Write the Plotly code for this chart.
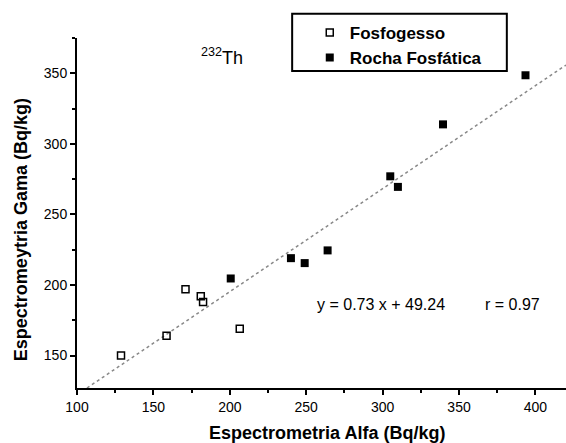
import plotly.graph_objects as go

fosfo_x = [128.8, 158.6, 171, 181, 182.5, 206.5]
fosfo_y = [150, 164, 197, 192, 188, 169]
rocha_x = [200.6, 240, 249, 264, 305, 310, 339.5, 393.5]
rocha_y = [204.6, 219, 215.5, 224.5, 277, 269.5, 313.8, 348.6]
slope, intercept = 0.73, 49.24
line_x = [100, 420]
line_y = [slope * v + intercept for v in line_x]

font = "Liberation Sans, Arial, sans-serif"
fig = go.Figure()
fig.add_trace(go.Scatter(x=line_x, y=line_y, mode="lines",
                         line=dict(color="#888", width=1.5, dash="dot"),
                         showlegend=False, hoverinfo="skip"))
fig.add_trace(go.Scatter(x=fosfo_x, y=fosfo_y, mode="markers", name="Fosfogesso",
                         marker=dict(symbol="square-open", size=7, color="black",
                                     line=dict(width=1.5))))
fig.add_trace(go.Scatter(x=rocha_x, y=rocha_y, mode="markers", name="Rocha Fosfática",
                         marker=dict(symbol="square", size=8, color="black")))

fig.update_layout(
    width=566, height=443,
    margin=dict(l=77, r=0, t=38, b=55),
    paper_bgcolor="white", plot_bgcolor="white",
    font=dict(family=font, size=14, color="black"),
    showlegend=True,
    legend=dict(x=0.476, y=1.066, xanchor="left", yanchor="top",
                borderwidth=0, bgcolor="rgba(0,0,0,0)",
                font=dict(size=17, family=font, weight="bold"), itemwidth=30,
                tracegroupgap=0),
    xaxis=dict(range=[100, 420], showline=True, linecolor="black", linewidth=2,
               ticks="outside", ticklen=5, tickwidth=1.5, tickcolor="black",
               dtick=50, tick0=100, showgrid=False, zeroline=False,
               minor=dict(ticks="outside", ticklen=3, dtick=25, tickcolor="black")),
    yaxis=dict(range=[127, 375], showline=True, linecolor="black", linewidth=2,
               ticks="outside", ticklen=5, tickwidth=1.5, tickcolor="black",
               dtick=50, tick0=150, showgrid=False, zeroline=False,
               minor=dict(ticks="outside", ticklen=3, dtick=25, tickcolor="black")),
    shapes=[dict(type="rect", xref="paper", yref="paper", x0=0.44, x1=0.879,
                 y0=0.906, y1=1.069, line=dict(color="black", width=2))],
    annotations=[
        dict(x=0.511, y=-0.1286, xref="paper", yref="paper", xanchor="center",
             yanchor="middle", text="<b>Espectrometria Alfa (Bq/kg)</b>",
             showarrow=False, font=dict(size=18)),
        dict(x=-0.1145, y=0.451, xref="paper", yref="paper", xanchor="center",
             yanchor="middle", text="<b>Espectromeytria Gama (Bq/kg)</b>",
             textangle=-90, showarrow=False, font=dict(size=18)),
        dict(x=0.249, y=0.946, xref="paper", yref="paper", xanchor="left",
             yanchor="middle", text="<sup>232</sup>Th", showarrow=False,
             font=dict(size=18)),
        dict(x=0.487, y=0.24, xref="paper", yref="paper", xanchor="left",
             yanchor="middle", text="y = 0.73 x + 49.24", showarrow=False,
             font=dict(size=16)),
        dict(x=0.830, y=0.24, xref="paper", yref="paper", xanchor="left",
             yanchor="middle", text="r = 0.97", showarrow=False,
             font=dict(size=16)),
    ],
)
fig.write_html("out.html")
